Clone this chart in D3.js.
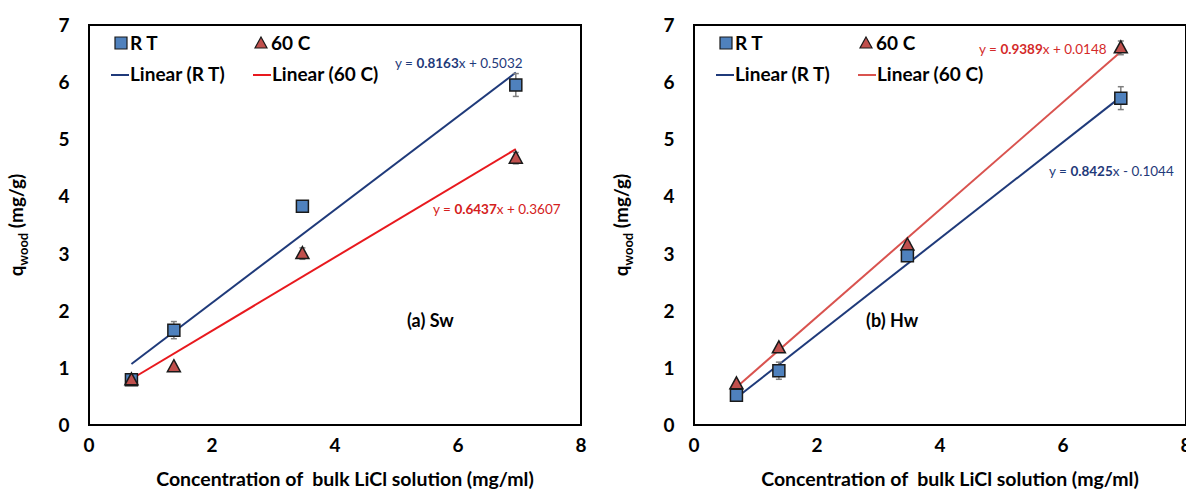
<!DOCTYPE html>
<html>
<head>
<meta charset="utf-8">
<script src="https://cdn.jsdelivr.net/npm/d3@7"></script>
<style>
  body { margin: 0; background: #fff; }
  text { font-family: Lato, "Open Sans", sans-serif; white-space: pre; }
</style>
</head>
<body>
<div class="vis"></div>
<script>
// LiCl concentration of the bulk solution (mg/ml)
const concentration = [0.69, 1.38, 3.47, 6.94];

// (a) Sw
const swRT = [0.79, 1.66, 3.83, 5.95];
const swRTErr = [0.03, 0.15, 0.05, 0.2];
const sw60 = [0.79, 1.02, 3.0, 4.67];
const sw60Err = [0.03, 0.03, 0.1, 0.1];
const swFitRT = [0.8163, 0.5032];
const swFit60 = [0.6437, 0.3607];

// (b) Hw
const hwRT = [0.52, 0.95, 2.96, 5.72];
const hwRTErr = [0.03, 0.15, 0.05, 0.2];
const hw60 = [0.72, 1.35, 3.15, 6.6];
const hw60Err = [0.03, 0.03, 0.05, 0.12];
const hwFitRT = [0.8425, -0.1044];
const hwFit60 = [0.9389, 0.0148];

const xTicks = [0, 2, 4, 6, 8];
const yTicks = [0, 1, 2, 3, 4, 5, 6, 7];

const blue = '#4f81bd', navy = '#1f3a7a';
const tri = '#c0504d';

const svg = d3.select('.vis').append('svg')
    .attr('width', 1186)
    .attr('height', 492);

const fmt = v => v.toFixed(4);

function panel(opts) {
    const x = d3.scaleLinear().domain([0, 8]).range([opts.left, opts.left + 492]);
    const y = d3.scaleLinear().domain([0, 7]).range([425, 25]);
    const g = svg.append('g');

    // frame
    g.append('rect')
        .attr('x', x(0)).attr('y', y(7))
        .attr('width', x(8) - x(0)).attr('height', y(0) - y(7))
        .attr('fill', 'none').attr('stroke', '#000').attr('stroke-width', 2);

    // tick labels
    g.selectAll('.xt').data(xTicks).enter().append('text')
        .attr('x', d => x(d)).attr('y', 452)
        .attr('text-anchor', 'middle')
        .attr('font-size', 19).attr('font-weight', 'bold')
        .text(d => d);
    g.selectAll('.yt').data(yTicks).enter().append('text')
        .attr('x', x(0) - 25).attr('y', d => y(d) + 7)
        .attr('text-anchor', 'middle')
        .attr('font-size', 19).attr('font-weight', 'bold')
        .text(d => d);

    // axis titles
    g.append('text')
        .attr('x', x(0) + 256).attr('y', 486)
        .attr('text-anchor', 'middle')
        .attr('font-size', 19.5).attr('font-weight', 'bold')
        .text('Concentration of  bulk LiCl solution (mg/ml)');
    const yl = g.append('text')
        .attr('transform', 'translate(' + (x(0) - 66) + ',225) rotate(-90)')
        .attr('text-anchor', 'middle')
        .attr('font-size', 19).attr('font-weight', 'bold');
    yl.append('tspan').text('q');
    yl.append('tspan').attr('font-size', 13).attr('dy', 5).text('wood');
    yl.append('tspan').attr('dy', -5).text(' (mg/g)');

    // trend lines
    const series = [
        {vals: opts.rt, err: opts.rtErr, fit: opts.fitRT, line: navy, shape: 'square'},
        {vals: opts.c60, err: opts.c60Err, fit: opts.fit60, line: opts.red, shape: 'triangle'}
    ];
    const x0 = d3.min(concentration), x1 = d3.max(concentration);
    series.forEach(s => {
        g.append('line')
            .attr('x1', x(x0)).attr('y1', y(s.fit[0] * x0 + s.fit[1]))
            .attr('x2', x(x1)).attr('y2', y(s.fit[0] * x1 + s.fit[1]))
            .attr('stroke', s.line).attr('stroke-width', 2);
    });

    // points + error bars
    const order = opts.squaresOnTop ? [series[1], series[0]] : series;
    order.forEach(s => {
        const pts = concentration.map((c, i) => ({c: c, v: s.vals[i], e: s.err[i]}));
        const eb = g.append('g').attr('stroke', '#7f7f7f').attr('stroke-width', 1.5);
        pts.forEach(p => {
            eb.append('line').attr('x1', x(p.c)).attr('x2', x(p.c))
                .attr('y1', y(p.v - p.e)).attr('y2', y(p.v + p.e));
            [p.v - p.e, p.v + p.e].forEach(v => eb.append('line')
                .attr('x1', x(p.c) - 3).attr('x2', x(p.c) + 3)
                .attr('y1', y(v)).attr('y2', y(v)));
        });
        g.selectAll(null).data(pts).enter().append('path')
            .attr('transform', d => 'translate(' + x(d.c) + ',' + y(d.v) + ')')
            .attr('d', s.shape === 'square' ? 'M-6,-6H6V6H-6Z' : 'M0,-7L6.5,5H-6.5Z')
            .attr('fill', s.shape === 'square' ? blue : tri)
            .attr('stroke', '#1a1a1a').attr('stroke-width', 1.5);
    });

    // legend
    const lg = g.append('g').attr('font-size', 19).attr('font-weight', 'bold');
    const lx = x(0);
    lg.append('path').attr('d', 'M' + (lx + 26) + ',37h12v12h-12Z')
        .attr('fill', blue).attr('stroke', '#1a1a1a').attr('stroke-width', 1.2);
    lg.append('text').attr('x', lx + 41).attr('y', 50).text('R T');
    lg.append('path').attr('d', 'M' + (lx + 172) + ',37l6,11h-12Z')
        .attr('fill', tri).attr('stroke', '#1a1a1a').attr('stroke-width', 1.2);
    lg.append('text').attr('x', lx + 182).attr('y', 50).text('60 C');
    lg.append('line').attr('x1', lx + 22).attr('x2', lx + 40).attr('y1', 75).attr('y2', 75)
        .attr('stroke', navy).attr('stroke-width', 2);
    lg.append('text').attr('x', lx + 41).attr('y', 81).text('Linear (R T)');
    lg.append('line').attr('x1', lx + 164).attr('x2', lx + 182).attr('y1', 75).attr('y2', 75)
        .attr('stroke', opts.red).attr('stroke-width', 2);
    lg.append('text').attr('x', lx + 183).attr('y', 81).text('Linear (60 C)');

    // equations
    const eq = (pos, fit, color) => {
        const t = g.append('text').attr('x', pos[0]).attr('y', pos[1])
            .attr('font-size', 13.5).attr('fill', color);
        t.append('tspan').text('y = ');
        t.append('tspan').attr('font-weight', 'bold').text(fmt(fit[0]));
        t.append('tspan').text('x ' + (fit[1] < 0 ? '- ' : '+ ') + fmt(Math.abs(fit[1])));
    };
    eq(opts.eqRT, opts.fitRT, navy);
    eq(opts.eq60, opts.fit60, opts.eqRed);

    g.append('text').attr('x', opts.label[0]).attr('y', opts.label[1])
        .attr('font-size', 18).attr('font-weight', 'bold').text(opts.labelText);
}

panel({
    left: 89, rt: swRT, rtErr: swRTErr, c60: sw60, c60Err: sw60Err,
    fitRT: swFitRT, fit60: swFit60, red: '#e8191e', eqRed: '#d42020',
    eqRT: [395, 68], eq60: [433, 214], label: [407, 327], labelText: '(a) Sw'
});
panel({
    left: 694, rt: hwRT, rtErr: hwRTErr, c60: hw60, c60Err: hw60Err,
    fitRT: hwFitRT, fit60: hwFit60, red: '#d9534f', eqRed: '#d42a2a', squaresOnTop: true,
    eqRT: [1049, 176], eq60: [979, 54], label: [866, 327], labelText: '(b) Hw'
});
</script>
</body>
</html>
